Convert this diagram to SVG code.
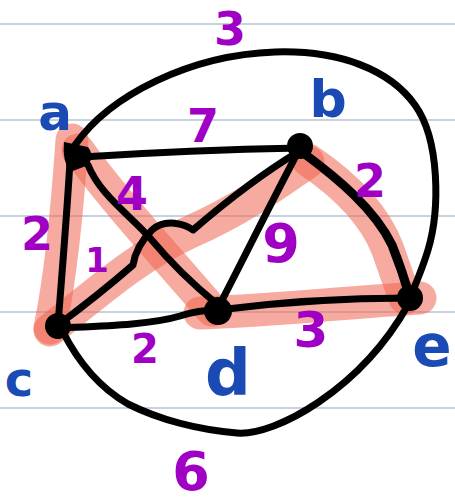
<svg xmlns="http://www.w3.org/2000/svg" width="455" height="502" viewBox="0 0 455 502">
<style>
.guide{stroke:#c8d2de;stroke-width:2}
.hl{fill:none;stroke:#f06450;stroke-opacity:0.55;stroke-width:33;stroke-linecap:round;stroke-linejoin:round}
.edge{fill:none;stroke:#000;stroke-width:7;stroke-linecap:round;stroke-linejoin:round}
.dot{fill:#000}
.lbl{font-family:"DejaVu Sans",sans-serif;font-weight:bold;fill:#1a4ab4;text-anchor:middle}
.w{font-family:"DejaVu Sans",sans-serif;font-weight:bold;fill:#a000c4;text-anchor:middle;font-size:46px}
</style>
<rect width="455" height="502" fill="#fff"/>
<g id="guides">
<line class="guide" x1="0" y1="24" x2="455" y2="24"/>
<line class="guide" x1="0" y1="120" x2="455" y2="120"/>
<line class="guide" x1="0" y1="216" x2="455" y2="216"/>
<line class="guide" x1="0" y1="312" x2="455" y2="312"/>
<line class="guide" x1="0" y1="408" x2="455" y2="408"/>
</g>
<g id="highlights">
<path class="hl" d="M72,140 C68,200 62,270 50,328"/>
<path class="hl" d="M78,150 C110,195 160,250 212,310"/>
<path class="hl" d="M50,330 C100,290 140,255 190,232 C240,210 275,185 308,162"/>
<path class="hl" d="M308,160 C345,185 375,215 388,250 C395,270 400,285 405,298"/>
<path class="hl" d="M200,313 C280,310 350,302 420,298"/>
</g>
<g id="connectors">
<path id="e-ab" class="edge" d="M82,157 Q190,150 300,148"/>
<path id="e-ae" class="edge" d="M75,145 C110,95 190,55 275,52 C340,50 390,70 415,105 C440,140 440,210 428,250 C422,270 415,285 410,298"/>
<path id="e-ac" class="edge" d="M70,160 C68,200 63,260 58,325"/>
<path id="e-ad" class="edge" d="M88,165 C100,195 130,215 150,238 C170,262 190,282 218,305"/>
<path id="e-bc" class="edge" d="M298,152 C255,178 222,205 193,230 C185,224 165,218 152,230 C142,240 135,252 133,265 C110,285 85,305 58,325"/>
<path id="e-bd" class="edge" d="M298,152 C275,195 248,250 218,308"/>
<path id="e-be" class="edge" style="stroke-width:9" d="M302,152 C340,180 375,210 392,245 C400,265 405,280 410,298"/>
<path id="e-cd" class="edge" d="M58,328 C100,326 150,325 180,316 C195,311 205,310 218,310"/>
<path id="e-de" class="edge" d="M218,310 C280,302 350,298 410,298"/>
<path id="e-ce" class="edge" d="M62,330 C78,362 100,388 128,404 C160,420 200,430 237,433 C275,436 360,390 408,305"/>
<text class="w" x="230" y="45">3</text>
<text class="w" x="203" y="142">7</text>
<text class="w" x="370" y="197">2</text>
<text class="w" x="132" y="210">4</text>
<text class="w" x="37" y="250">2</text>
<text class="w" x="97" y="272" style="font-size:34px">1</text>
<text class="w" x="281" y="262" style="font-size:54px">9</text>
<text class="w" x="145" y="363" style="font-size:40px">2</text>
<text class="w" x="311" y="347" style="font-size:50px">3</text>
<text class="w" x="191" y="490" style="font-size:54px">6</text>
</g>
<g id="node-a"><path class="dot" d="M64,142 L88,147 Q96,158 86,166 L70,172 Q62,160 64,142 Z"/><text class="lbl" x="55" y="130" style="font-size:50px">a</text></g>
<g id="node-b"><circle class="dot" cx="300" cy="146" r="13"/><text class="lbl" x="328" y="117" style="font-size:52px">b</text></g>
<g id="node-c"><circle class="dot" cx="58" cy="326" r="13"/><text class="lbl" x="19" y="396" style="font-size:48px">c</text></g>
<g id="node-d"><circle class="dot" cx="218" cy="311" r="14"/><text class="lbl" x="228" y="395" style="font-size:64px">d</text></g>
<g id="node-e"><circle class="dot" cx="410" cy="298" r="13"/><text class="lbl" x="432" y="366" style="font-size:58px">e</text></g>
</svg>
